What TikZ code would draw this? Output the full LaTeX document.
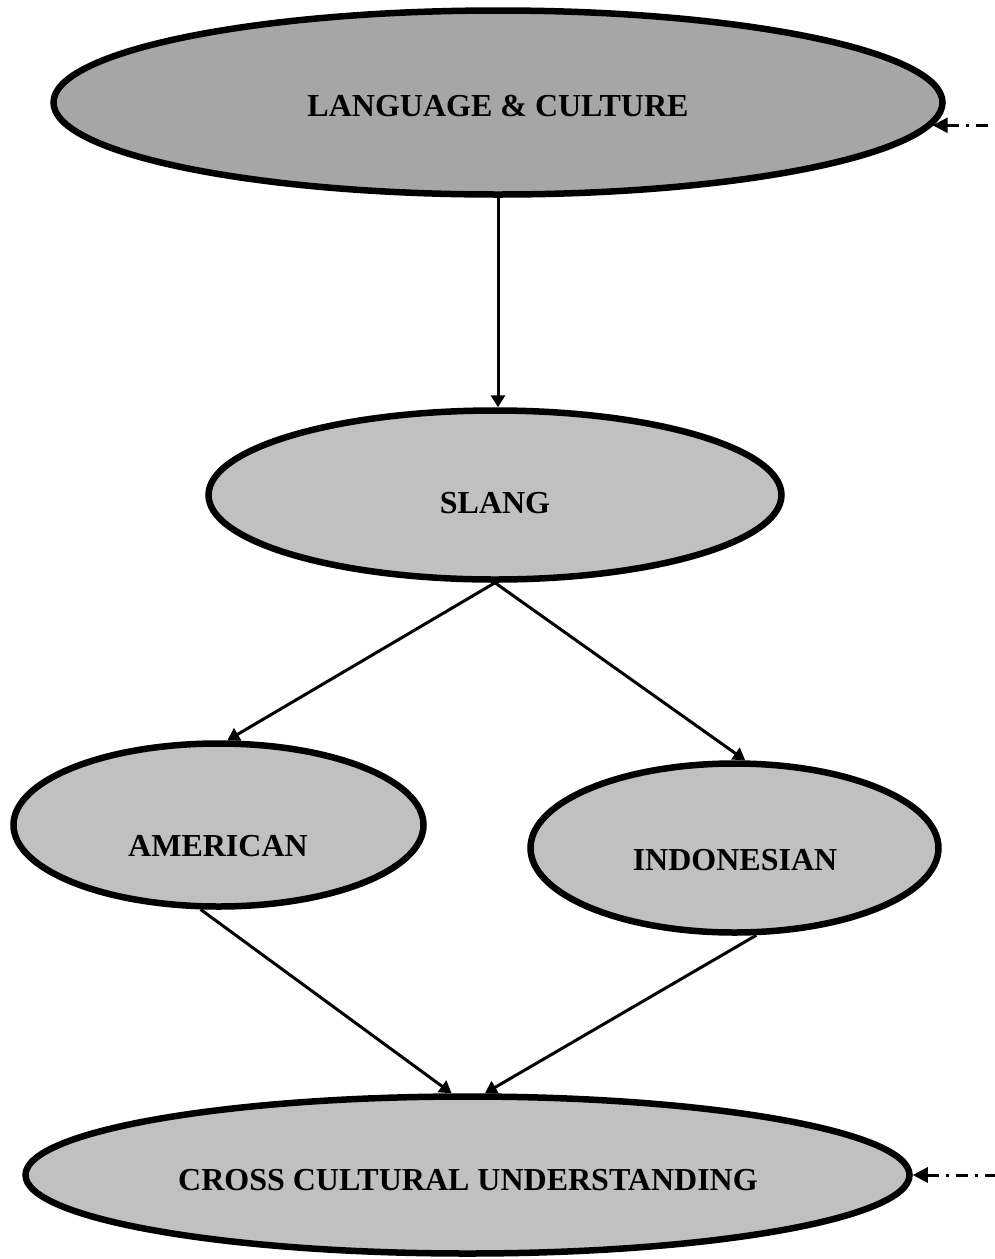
\documentclass[tikz,border=0pt]{standalone}
\usepackage{fontspec}
\setmainfont{Liberation Serif}
\usetikzlibrary{shapes.geometric,arrows.meta}
\definecolor{darkfill}{HTML}{A6A6A6}
\definecolor{lightfill}{HTML}{C0C0C0}
\tikzset{
  oval/.style={ellipse, draw=black, line width=6.5pt, inner sep=0pt},
  lbl/.style={font=\bfseries\fontsize{32}{37}\selectfont, inner sep=0pt},
  conn/.style={line width=3pt, -{Triangle[length=12pt,width=14pt]}},
  dconn/.style={line width=3pt, {Triangle[length=15pt,width=15pt]}-, dash pattern=on 12pt off 7pt on 3pt off 7pt},
}
\begin{document}
\begin{tikzpicture}[x=1pt,y=-1pt]
\useasboundingbox (0,0) rectangle (995,1259);
\node[oval, fill=darkfill, minimum width=889pt, minimum height=184pt] (lc) at (498,102.5) {};
\node[oval, fill=lightfill, minimum width=573pt, minimum height=169pt] (sl) at (495,495) {};
\node[oval, fill=lightfill, minimum width=410pt, minimum height=163pt] (am) at (218.5,825) {};
\node[oval, fill=lightfill, minimum width=408pt, minimum height=169pt] (in) at (734.5,848) {};
\node[oval, fill=lightfill, minimum width=884pt, minimum height=157pt] (cr) at (467.5,1175) {};
\node[lbl] (tlc) at (498,106) {LANGUAGE \& CULTURE};
\node[lbl] (tsl) at (495,503) {SLANG};
\node[lbl] (tam) at (218,846) {AMERICAN};
\node[lbl] (tin) at (735,860) {INDONESIAN};
\node[lbl] (tcr) at (468,1180) {CROSS CULTURAL UNDERSTANDING};
\coordinate (e1) at (995,123);
\coordinate (e2) at (995,1177);
\draw[conn] (lc.south) -- (lc.south |- sl.north);
\draw[conn] (sl.south) -- (am.84);
\draw[conn] (sl.south) -- (in.83);
\draw[conn] (am.258) -- (cr.101);
\draw[conn] (in.284) -- (cr.78);
\draw[dconn] (lc.-3) -- (lc.-3 -| e1);
\draw[dconn] (cr.east) -- (cr.east -| e2);
\end{tikzpicture}
\end{document}
